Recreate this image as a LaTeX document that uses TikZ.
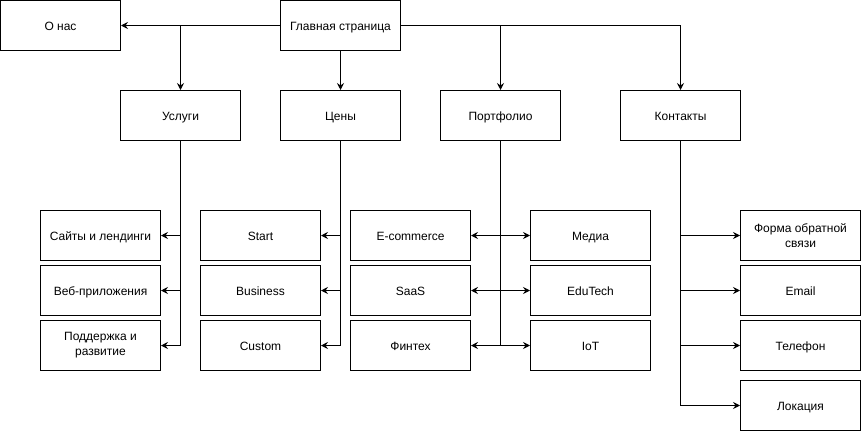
\documentclass[tikz,border=0pt]{standalone}
\usepackage{fontspec}
\setmainfont{Liberation Sans}
\usetikzlibrary{arrows.meta}
\begin{document}
\begin{tikzpicture}[x=1pt,y=-1pt,
  mbox/.style={draw,line width=1pt,rectangle,minimum width=120pt,minimum height=50pt,inner sep=0pt,align=center,font=\fontsize{12}{15}\selectfont},
  box/.style={mbox,text height=10pt,text depth=0pt},
  arr/.style={line width=1pt,-{Stealth[length=7pt,width=7pt,inset=2.5pt]}}]
\useasboundingbox (-0.5,-0.5) rectangle (860.5,430.5);
\node[box] (onas) at (60,25) {О нас};
\node[box] (main) at (340,25) {Главная страница};
\node[box] (usl) at (180,115) {Услуги};
\node[box] (cen) at (340,115) {Цены};
\node[box] (por) at (500,115) {Портфолио};
\node[box] (kon) at (680,115) {Контакты};
\node[box] (u1) at (100,235) {Сайты и лендинги};
\node[box] (u2) at (100,290) {Веб-приложения};
\node[mbox] (u3) at (100,345) {Поддержка и\\развитие};
\node[box] (c1) at (260,235) {Start};
\node[box] (c2) at (260,290) {Business};
\node[box] (c3) at (260,345) {Custom};
\node[box] (p1) at (410,235) {E-commerce};
\node[box] (p2) at (410,290) {SaaS};
\node[box] (p3) at (410,345) {Финтех};
\node[box] (p4) at (590,235) {Медиа};
\node[box] (p5) at (590,290) {EduTech};
\node[box] (p6) at (590,345) {IoT};
\node[mbox] (k1) at (800,235) {Форма обратной\\связи};
\node[box] (k2) at (800,290) {Email};
\node[box] (k3) at (800,345) {Телефон};
\node[box] (k4) at (800,405) {Локация};
\draw[arr] (main.west) -- (onas.east);
\draw[arr] (main.west) -| (usl.north);
\draw[arr] (main.south) -- (cen.north);
\draw[arr] (main.east) -| (por.north);
\draw[arr] (main.east) -| (kon.north);
\foreach \n in {u1,u2,u3} \draw[arr] (usl.south) |- (\n.east);
\foreach \n in {c1,c2,c3} \draw[arr] (cen.south) |- (\n.east);
\foreach \n in {p1,p2,p3} \draw[arr] (por.south) |- (\n.east);
\foreach \n in {p4,p5,p6} \draw[arr] (por.south) |- (\n.west);
\foreach \n in {k1,k2,k3,k4} \draw[arr] (kon.south) |- (\n.west);
\end{tikzpicture}
\end{document}
